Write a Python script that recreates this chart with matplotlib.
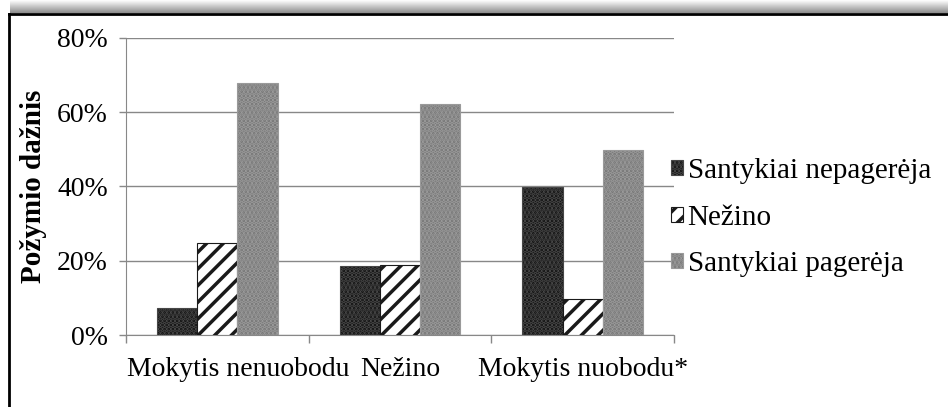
import numpy as np
import matplotlib
matplotlib.use("Agg")
import matplotlib.pyplot as plt
import matplotlib.transforms as mtransforms
from matplotlib.lines import Line2D

plt.rcParams['font.family'] = ['Liberation Serif', 'DejaVu Serif']
plt.rcParams['hatch.linewidth'] = 2.5

categories = ["Mokytis nenuobodu", "Nežino", "Mokytis nuobodu*"]
series_names = ["Santykiai nepagerėja", "Nežino", "Santykiai pagerėja"]
nepagereja = [7.2, 18.6, 39.9]
nezino = [24.8, 18.8, 9.7]
pagereja = [67.9, 62.2, 49.7]
yticks = [0, 20, 40, 60, 80]

fig = plt.figure(figsize=(9.48, 4.07), dpi=100)
ax = fig.add_axes([0.1329, 0.1769, 0.578, 0.7305])

x = np.arange(len(categories))
w = 0.22
styles = [
    dict(facecolor="#111111", edgecolor="#474747", hatch="...."),
    dict(facecolor="white", edgecolor="#1a1a1a", hatch="//"),
    dict(facecolor="#767676", edgecolor="#9a9a9a", hatch="...."),
]
bars = []
for i, vals in enumerate([nepagereja, nezino, pagereja]):
    b = ax.bar(x + (i - 1) * w, np.array(vals) / 100, w, linewidth=0.8,
               label=series_names[i], zorder=3, **styles[i])
    bars.append(b)

ax.set_ylim(0, 0.8)
ax.set_xlim(-0.5, 2.5)
ax.set_yticks([v / 100 for v in yticks])
ax.set_yticklabels([f"{v}%" for v in yticks], fontsize=20)
ax.set_xticks(x)
ax.set_xticklabels(categories, fontsize=20)
ax.set_xticks([-0.5, 0.5, 1.5, 2.5], minor=True)
ax.tick_params(axis="x", which="major", length=0, pad=16)
ax.tick_params(axis="x", which="minor", length=6, color="#888888", width=1)
ax.tick_params(axis="y", length=5, color="#888888", width=1, pad=8)
ax.grid(axis="y", color="#888888", linewidth=1, zorder=0)
ax.set_axisbelow(True)
for s in ["top", "right"]:
    ax.spines[s].set_visible(False)
for s in ["left", "bottom"]:
    ax.spines[s].set_color("#888888")

# first category label sits a bit right of its centre, as in the source
lab0 = ax.get_xticklabels()[0]
lab0.set_transform(lab0.get_transform() +
                   mtransforms.ScaledTranslation(0.21, 0, fig.dpi_scale_trans))

fig.text(0.035, 0.543, "Požymio dažnis", rotation=90, fontsize=21,
         fontweight="bold", ha="center", va="center")

fig.legend(handles=bars, labels=series_names, loc="center left",
           bbox_to_anchor=(0.68, 0.465), frameon=False, fontsize=21,
           handlelength=0.42, handleheight=0.42, handletextpad=0.15,
           labelspacing=0.7)

# frame and shadow
fig.add_artist(Line2D([8.5 / 948, 8.5 / 948], [0, 1 - 14 / 407],
                      color="black", linewidth=2, transform=fig.transFigure))
fig.add_artist(Line2D([8.5 / 948, 1], [1 - 14 / 407, 1 - 14 / 407],
                      color="black", linewidth=2, transform=fig.transFigure))
sh = fig.add_axes([10 / 948, 1 - 13 / 407, 1 - 10 / 948, 13 / 407])
grad = np.linspace(1.0, 0.55, 50).reshape(-1, 1)
sh.imshow(grad, aspect="auto", cmap="gray", vmin=0, vmax=1, extent=[0, 1, 0, 1])
sh.axis("off")

fig.savefig("out.png", dpi=100)
